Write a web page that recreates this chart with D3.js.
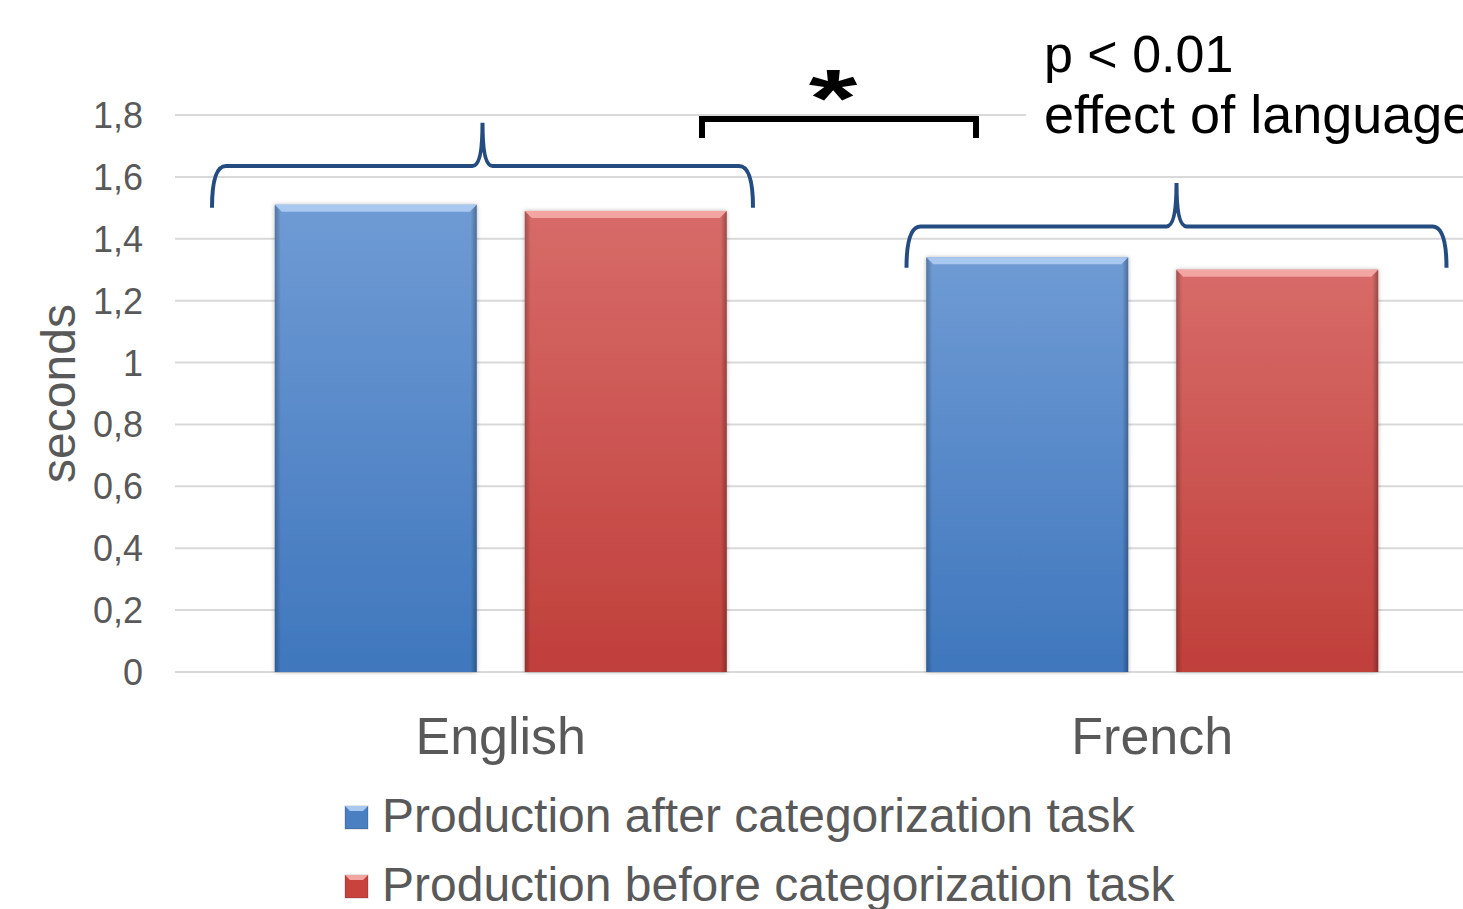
<!DOCTYPE html>
<html>
<head>
<meta charset="utf-8">
<script src="https://cdn.jsdelivr.net/npm/d3@7/dist/d3.min.js"></script>
<style>
  body { margin: 0; background: #fff; }
  svg text { font-family: "Liberation Sans", Arial, sans-serif; }
</style>
</head>
<body>
<div id="chart"></div>
<script>
// data
var languages = ["English", "French"];
var seriesNames = ["Production after categorization task", "Production before categorization task"];
var afterValues = [1.51, 1.34];
var beforeValues = [1.49, 1.30];
var yTicks = [0, 0.2, 0.4, 0.6, 0.8, 1, 1.2, 1.4, 1.6, 1.8];
// braces over each language group: [end level, bar level, tip level] in seconds
var braceLevels = [[1.5, 1.635, 1.775], [1.306, 1.44, 1.58]];
var pNote = ["p < 0.01", "effect of language"];

var w = 1463, h = 909;
var mLeft = 175, mRight = 1478, mTop = 115, mBottom = 672;

var svg = d3.select("#chart").append("svg")
    .attr("width", w)
    .attr("height", h);

var defs = svg.append("defs");

function barGrad(id, c1, c2){
    var g = defs.append("linearGradient").attr("id", id)
        .attr("x1", 0).attr("y1", 0).attr("x2", 0).attr("y2", 1);
    g.append("stop").attr("offset", "0%").attr("stop-color", c1);
    g.append("stop").attr("offset", "100%").attr("stop-color", c2);
}
barGrad("gBlue", "#6f9bd4", "#3f77bd");
barGrad("gRed", "#d76b68", "#c03f3b");

// darker side edges
var edge = defs.append("linearGradient").attr("id", "gEdge")
    .attr("x1", 0).attr("y1", 0).attr("x2", 1).attr("y2", 0);
edge.append("stop").attr("offset", "0%").attr("stop-color", "#000").attr("stop-opacity", 0.25);
edge.append("stop").attr("offset", "3%").attr("stop-color", "#000").attr("stop-opacity", 0);
edge.append("stop").attr("offset", "97%").attr("stop-color", "#000").attr("stop-opacity", 0);
edge.append("stop").attr("offset", "100%").attr("stop-color", "#000").attr("stop-opacity", 0.3);

var shadow = defs.append("filter").attr("id", "shadow")
    .attr("x", "-10%").attr("y", "-10%").attr("width", "120%").attr("height", "120%");
shadow.append("feDropShadow").attr("dx", 0).attr("dy", 0).attr("stdDeviation", 2)
    .attr("flood-color", "#000").attr("flood-opacity", 0.3);

var yScale = d3.scaleLinear()
    .domain([0, 1.8])
    .range([mBottom, mTop]);

var x0 = d3.scaleBand()
    .domain(languages)
    .range([mLeft, mRight])
    .padding(0);

var x1 = d3.scaleBand()
    .domain(seriesNames)
    .range([0, x0.bandwidth()])
    .paddingInner(0.192)
    .paddingOuter(0.399);

var fills = ["url(#gBlue)", "url(#gRed)"];
var tops = ["#a8c8f0", "#f3a5a2"];
var legendFills = ["#4a7fc2", "#c8423e"];

// gridlines
svg.append("g").selectAll("line")
    .data(yTicks)
    .enter()
    .append("line")
    .attr("x1", mLeft)
    .attr("x2", w)
    .attr("y1", function(d){ return yScale(d); })
    .attr("y2", function(d){ return yScale(d); })
    .attr("stroke", "#d9d9d9")
    .attr("stroke-width", 2);

// y tick labels
svg.append("g").selectAll("text")
    .data(yTicks)
    .enter()
    .append("text")
    .attr("x", 143)
    .attr("y", function(d){ return yScale(d); })
    .attr("dy", "0.36em")
    .style("text-anchor", "end")
    .style("font-size", "36px")
    .attr("fill", "#595959")
    .text(function(d){ return String(d).replace(".", ","); });

svg.append("text")
    .attr("transform", "translate(75," + ((mTop + mBottom) / 2) + ") rotate(-90)")
    .style("text-anchor", "middle")
    .style("font-size", "48px")
    .attr("fill", "#595959")
    .text("seconds");

// bars
var barData = [];
languages.forEach(function(l, i){
    barData.push({lang: l, s: 0, v: afterValues[i]});
    barData.push({lang: l, s: 1, v: beforeValues[i]});
});

var bars = svg.append("g").selectAll("g")
    .data(barData)
    .enter()
    .append("g")
    .attr("transform", function(d){
        return "translate(" + (x0(d.lang) + x1(seriesNames[d.s])) + ",0)";
    });

bars.append("rect")
    .attr("y", function(d){ return yScale(d.v); })
    .attr("width", x1.bandwidth())
    .attr("height", function(d){ return mBottom - yScale(d.v); })
    .attr("fill", function(d){ return fills[d.s]; })
    .attr("filter", "url(#shadow)");

bars.append("rect")
    .attr("y", function(d){ return yScale(d.v); })
    .attr("width", x1.bandwidth())
    .attr("height", function(d){ return mBottom - yScale(d.v); })
    .attr("fill", "url(#gEdge)");

bars.append("path")
    .attr("d", function(d){
        var y = yScale(d.v), bw = x1.bandwidth();
        return "M0," + y + "L" + bw + "," + y + "L" + (bw - 7) + "," + (y + 7) + "L7," + (y + 7) + "Z";
    })
    .attr("fill", function(d){ return tops[d.s]; });

// category labels
svg.append("g").selectAll("text")
    .data(languages)
    .enter()
    .append("text")
    .attr("x", function(d){ return x0(d) + x0.bandwidth() / 2; })
    .attr("y", 754)
    .style("text-anchor", "middle")
    .style("font-size", "52px")
    .attr("fill", "#595959")
    .text(function(d){ return d; });

// curly braces
var braceSpans = [[37, 578], [80, 620]];
svg.append("g").selectAll("path")
    .data(languages)
    .enter()
    .append("path")
    .attr("d", function(d, i){
        var xa = x0(d) + braceSpans[i][0], xb = x0(d) + braceSpans[i][1];
        var xm = (xa + xb) / 2;
        var yEnd = yScale(braceLevels[i][0]), yH = yScale(braceLevels[i][1]), yTip = yScale(braceLevels[i][2]);
        return "M" + xa + "," + yEnd +
            "Q" + xa + "," + yH + " " + (xa + 14) + "," + yH +
            "L" + (xm - 10) + "," + yH +
            "Q" + xm + "," + yH + " " + xm + "," + yTip +
            "Q" + xm + "," + yH + " " + (xm + 10) + "," + yH +
            "L" + (xb - 14) + "," + yH +
            "Q" + xb + "," + yH + " " + xb + "," + yEnd;
    })
    .attr("fill", "none")
    .attr("stroke", "#244c80")
    .attr("stroke-width", 4);

// significance bracket
svg.append("path")
    .attr("d", "M702,138L702,119L976,119L976,138")
    .attr("fill", "none")
    .attr("stroke", "#000")
    .attr("stroke-width", 6);

svg.append("text")
    .attr("transform", "translate(833,126) scale(1.3,0.85)")
    .style("text-anchor", "middle")
    .style("font-size", "96px")
    .style("font-weight", "bold")
    .text("*");

// p value note
svg.append("rect")
    .attr("x", 1026).attr("y", 92).attr("width", 440).attr("height", 50)
    .attr("fill", "#fff");

svg.append("g").selectAll("text")
    .data(pNote)
    .enter()
    .append("text")
    .attr("x", 1044)
    .attr("y", function(d, i){ return 72 + 61 * i; })
    .style("font-size", function(d, i){ return i ? "54px" : "52px"; })
    .attr("fill", "#000")
    .text(function(d){ return d; });

// legend
var legend = svg.append("g").selectAll("g")
    .data(seriesNames)
    .enter()
    .append("g")
    .attr("transform", function(d, i){ return "translate(345," + (806 + 69 * i) + ")"; });

legend.append("rect")
    .attr("width", 23)
    .attr("height", 23)
    .attr("fill", function(d, i){ return legendFills[i]; })
    .attr("stroke", "#00000033");

legend.append("path")
    .attr("d", "M0,0L23,0L18,5L5,5Z")
    .attr("fill", function(d, i){ return tops[i]; });

legend.append("text")
    .attr("x", 37)
    .attr("y", 26)
    .style("font-size", "48px")
    .attr("fill", "#595959")
    .text(function(d){ return d; });
</script>
</body>
</html>
